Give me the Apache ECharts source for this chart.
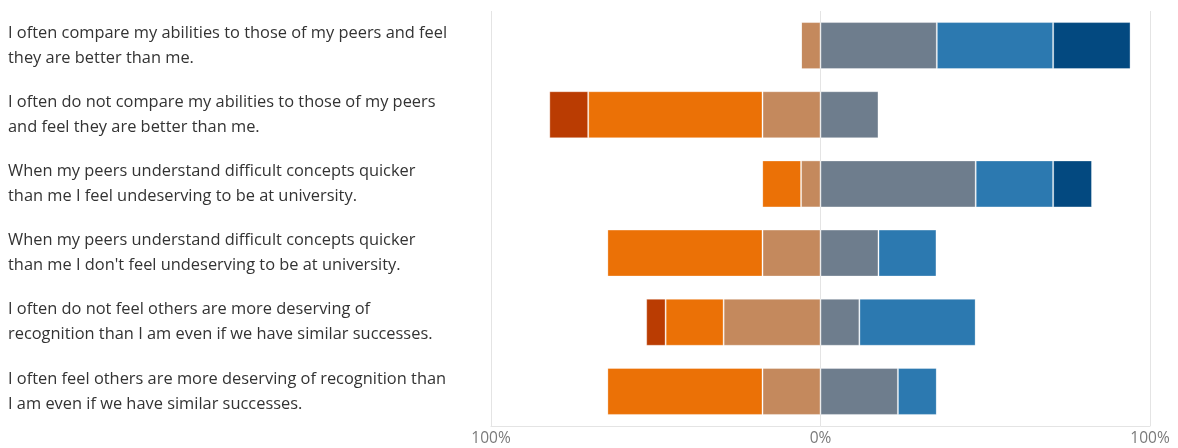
<!DOCTYPE html>
<html>
<head>
<meta charset="utf-8">
<script src="https://cdn.jsdelivr.net/npm/echarts@6/dist/echarts.min.js"></script>
<style>
html,body{margin:0;padding:0;background:#fff;}
#chart{width:1178px;height:448px;}
</style>
</head>
<body>
<div id="chart"></div>
<script>
const categories = [
  "I often compare my abilities to those of my peers and feel\nthey are better than me.",
  "I often do not compare my abilities to those of my peers\nand feel they are better than me.",
  "When my peers understand difficult concepts quicker\nthan me I feel undeserving to be at university.",
  "When my peers understand difficult concepts quicker\nthan me I don't feel undeserving to be at university.",
  "I often do not feel others are more deserving of\nrecognition than I am even if we have similar successes.",
  "I often feel others are more deserving of recognition than\nI am even if we have similar successes."
];
const seriesNames = ["Strongly disagree","Disagree","Slightly disagree","Slightly agree","Agree","Strongly agree"];
// percentages (negative side shown to the left of 0)
const stronglyDisagree = [0, -11.8, 0, 0, -5.9, 0];
const disagree        = [0, -52.9, -11.8, -47.1, -17.6, -47.1];
const slightlyDisagree = [-5.9, -17.6, -5.9, -17.6, -29.4, -17.6];
const slightlyAgree   = [35.3, 17.6, 47.1, 17.6, 11.8, 23.5];
const agree           = [35.3, 0, 23.5, 17.6, 35.3, 11.8];
const stronglyAgree   = [23.5, 0, 11.8, 0, 0, 0];
const tickLabels = {"-100":"100%","0":"0%","100":"100%"};

const colors = {
  sd:"#BA3C02", d:"#EB7106", sld:"#C4895D", sla:"#6E7D8D", a:"#2C79B0", sa:"#034980"
};
function mk(name, data, color){
  return {
    name, type:'bar', stack:'total', data, barCategoryGap:'32%',
    itemStyle:{color, borderColor:'rgba(255,255,255,0.35)', borderWidth:1},
    emphasis:{disabled:true}
  };
}
const chart = echarts.init(document.getElementById('chart'));
chart.setOption({
  animation:false,
  grid:{left:491, right:28, top:11, bottom:22, containLabel:false},
  xAxis:{
    type:'value', min:-100, max:100, interval:100,
    axisLine:{show:true, onZero:false, lineStyle:{color:'#e4e4e4'}},
    axisTick:{show:false},
    splitLine:{show:true, lineStyle:{color:'#e4e4e4', width:1}},
    axisLabel:{color:'#7a7a7a', fontSize:15.5, fontFamily:'Open Sans', margin:5,
      formatter:v=>tickLabels[String(v)]}
  },
  yAxis:{
    type:'category', data:categories, inverse:true,
    axisLine:{show:false}, axisTick:{show:false},
    axisLabel:{color:'#333', fontSize:16.4, fontFamily:'Open Sans', align:'left', margin:483, lineHeight:25}
  },
  series:[
    mk(seriesNames[2], slightlyDisagree, colors.sld),
    mk(seriesNames[1], disagree, colors.d),
    mk(seriesNames[0], stronglyDisagree, colors.sd),
    mk(seriesNames[3], slightlyAgree, colors.sla),
    mk(seriesNames[4], agree, colors.a),
    mk(seriesNames[5], stronglyAgree, colors.sa)
  ]
});
</script>
</body>
</html>
